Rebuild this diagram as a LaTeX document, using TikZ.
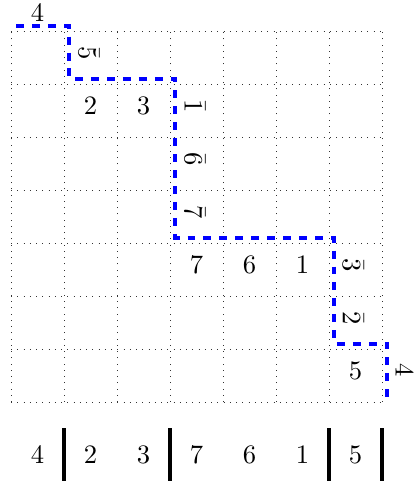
\documentclass[tikz,border=0pt]{standalone}
\begin{document}
\begin{tikzpicture}[x=0.7cm,y=0.7cm,
  lab/.style={inner sep=0pt},
  rlab/.style={inner sep=0pt,rotate=-90},
  sep/.style={very thick},
  gridline/.style={dotted,line width=0.35pt,black!80},
  route/.style={blue,line width=1.4pt,dashed}]
\useasboundingbox (-0.208,-1.604) rectangle (7.604,7.585);
\foreach \i in {0,...,7} {
  \draw[gridline] (\i,0) -- (\i,7);
  \draw[gridline] (0,\i) -- (7,\i);
}
\draw[route,shift={(0.1,0.1)}] (0,7) -- (1,7) -- (1,6) -- (3,6) -- (3,3) -- (6,3) -- (6,1) -- (7,1) -- (7,0);
\node[lab] (t4) at (0.5,7.35) {$4$};
\node[rlab] (a5) at (1.47,6.59) {$\bar 5$};
\node[lab] (b2) at (1.5,5.585) {$2$};
\node[lab] (b3) at (2.5,5.585) {$3$};
\node[rlab] (c1) at (3.47,5.58) {$\bar 1$};
\node[rlab] (c6) at (3.47,4.58) {$\bar 6$};
\node[rlab] (c7) at (3.47,3.58) {$\bar 7$};
\node[lab] (d7) at (3.5,2.585) {$7$};
\node[lab] (d6) at (4.5,2.585) {$6$};
\node[lab] (d1) at (5.5,2.585) {$1$};
\node[rlab] (e3) at (6.46,2.58) {$\bar 3$};
\node[rlab] (e2) at (6.46,1.58) {$\bar 2$};
\node[lab] (f5) at (6.5,0.585) {$5$};
\node[rlab] (g4) at (7.42,0.6) {$4$};
\node[lab] (w4) at (0.5,-1) {$4$};
\node[lab] (w2) at (1.5,-1) {$2$};
\node[lab] (w3) at (2.5,-1) {$3$};
\node[lab] (w7) at (3.5,-1) {$7$};
\node[lab] (w6) at (4.5,-1) {$6$};
\node[lab] (w1) at (5.5,-1) {$1$};
\node[lab] (w5) at (6.5,-1) {$5$};
\foreach \x in {1,3,6,7} \draw[sep] (\x,-0.5) -- (\x,-1.5);
\end{tikzpicture}
\end{document}
